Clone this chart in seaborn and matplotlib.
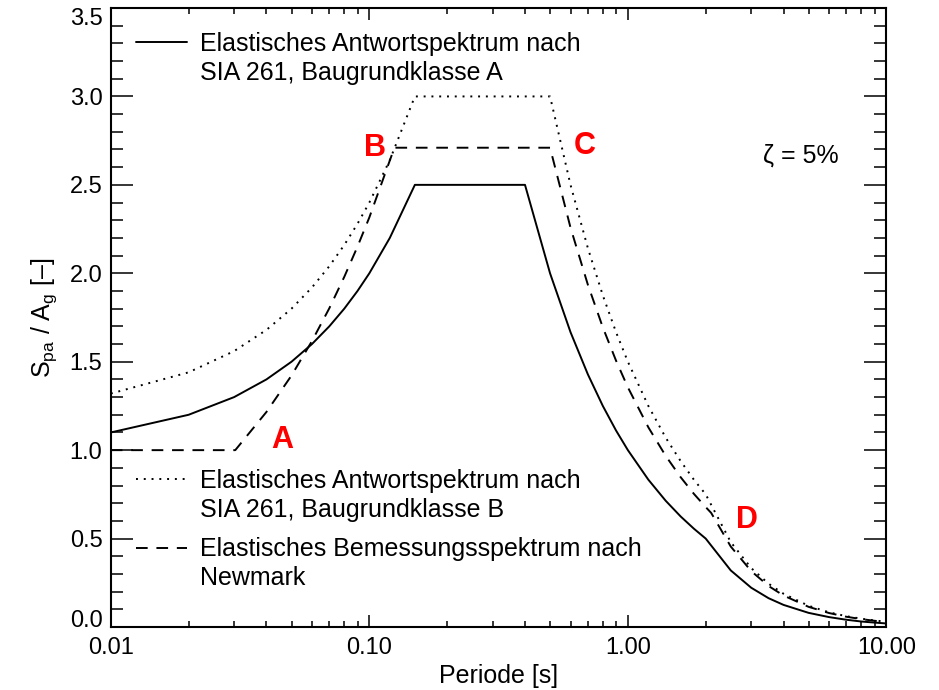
import matplotlib
matplotlib.use("Agg")
import matplotlib.pyplot as plt
import seaborn as sns
from matplotlib.lines import Line2D
from matplotlib.ticker import MultipleLocator, FixedLocator, FixedFormatter, LogLocator, NullFormatter

# Elastic response spectrum SIA 261, ground class A (S_pa / a_g)
periods_a = [0.01, 0.02, 0.03, 0.04, 0.05, 0.06, 0.07, 0.08, 0.09, 0.10, 0.12, 0.15,
             0.40, 0.50, 0.60, 0.70, 0.80, 0.90, 1.0, 1.2, 1.4, 1.6, 1.8, 2.0,
             2.5, 3.0, 3.5, 4.0, 5.0, 6.0, 7.0, 8.0, 9.0, 10.0]
sa_a = [1.10, 1.20, 1.30, 1.40, 1.50, 1.60, 1.70, 1.80, 1.90, 2.00, 2.20, 2.50,
        2.50, 2.00, 1.667, 1.429, 1.250, 1.111, 1.000, 0.833, 0.714, 0.625, 0.556, 0.500,
        0.320, 0.222, 0.163, 0.125, 0.080, 0.056, 0.041, 0.031, 0.025, 0.020]

# Elastic response spectrum SIA 261, ground class B
periods_b = [0.01, 0.02, 0.03, 0.04, 0.05, 0.06, 0.07, 0.08, 0.09, 0.10, 0.12, 0.15,
             0.50, 0.60, 0.70, 0.80, 0.90, 1.0, 1.2, 1.4, 1.6, 1.8, 2.0,
             2.5, 3.0, 3.5, 4.0, 5.0, 6.0, 7.0, 8.0, 9.0, 10.0]
sa_b = [1.32, 1.44, 1.56, 1.68, 1.80, 1.92, 2.04, 2.16, 2.28, 2.40, 2.64, 3.00,
        3.00, 2.500, 2.143, 1.875, 1.667, 1.500, 1.250, 1.071, 0.938, 0.833, 0.750,
        0.480, 0.333, 0.245, 0.188, 0.120, 0.083, 0.061, 0.047, 0.037, 0.030]

# Elastic design spectrum after Newmark (corners A, B, C, D)
periods_nm = [0.01, 0.0303, 0.04, 0.05, 0.06, 0.07, 0.08, 0.09, 0.10, 0.125,
              0.50, 0.60, 0.70, 0.80, 0.90, 1.0, 1.2, 1.4, 1.6, 1.8, 2.0, 2.1,
              2.5, 3.0, 3.5, 4.0, 5.0, 6.0, 7.0, 8.0, 9.0, 10.0]
sa_nm = [1.00, 1.00, 1.216, 1.422, 1.617, 1.802, 1.980, 2.151, 2.316, 2.71,
         2.71, 2.258, 1.936, 1.694, 1.506, 1.355, 1.129, 0.968, 0.847, 0.753, 0.678, 0.645,
         0.455, 0.316, 0.232, 0.178, 0.114, 0.079, 0.058, 0.0445, 0.0351, 0.0285]
corner_idx = [1, 9, 10, 21]
corner_names = ["A", "B", "C", "D"]

label_a = ["Elastisches Antwortspektrum nach", "SIA 261, Baugrundklasse A"]
label_b = ["Elastisches Antwortspektrum nach", "SIA 261, Baugrundklasse B"]
label_nm = ["Elastisches Bemessungsspektrum nach", "Newmark"]

x_ticks = [0.01, 0.1, 1.0, 10.0]
x_ticklabels = ["0.01", "0.10", "1.00", "10.00"]
y_ticks = [0.0, 0.5, 1.0, 1.5, 2.0, 2.5, 3.0, 3.5]
y_ticklabels = ["0.0", "0.5", "1.0", "1.5", "2.0", "2.5", "3.0", "3.5"]

sns.set_theme(style="ticks")
plt.rcParams["font.family"] = ["Liberation Sans", "DejaVu Sans"]
plt.rcParams["mathtext.fontset"] = "custom"
plt.rcParams["mathtext.rm"] = "Liberation Sans"
for key in ("text.color", "axes.labelcolor", "xtick.color", "ytick.color", "axes.edgecolor"):
    plt.rcParams[key] = "black"

fig = plt.figure(figsize=(9.39, 6.90), dpi=100)
ax = fig.add_axes([0.118, 0.0913, 0.826, 0.8971])

lw = 1.4
sns.lineplot(x=periods_a, y=sa_a, ax=ax, color="black", lw=lw,
             estimator=None, sort=False)
sns.lineplot(x=periods_b, y=sa_b, ax=ax, color="black", lw=lw,
             linestyle=(0, (1, 3)), estimator=None, sort=False)
sns.lineplot(x=periods_nm, y=sa_nm, ax=ax, color="black", lw=lw,
             linestyle=(0, (6, 4.5)), estimator=None, sort=False)
line_a, line_b, line_nm = ax.get_lines()[:3]

ax.set_xscale("log")
ax.set_xlim(0.01, 10.0)
ax.set_ylim(0.0, 3.5)

ax.xaxis.set_major_locator(FixedLocator(x_ticks))
ax.xaxis.set_major_formatter(FixedFormatter(x_ticklabels))
ax.xaxis.set_minor_locator(LogLocator(base=10, subs=range(2, 10)))
ax.xaxis.set_minor_formatter(NullFormatter())
ax.yaxis.set_major_locator(FixedLocator(y_ticks))
ax.yaxis.set_major_formatter(FixedFormatter(y_ticklabels))
ax.yaxis.set_minor_locator(MultipleLocator(0.1))

ax.tick_params(axis="both", which="both", direction="in", top=True, right=True,
               colors="black", width=1.1, labelsize=17)
ax.tick_params(axis="x", which="major", length=8.6, pad=7)
ax.tick_params(axis="x", which="minor", length=4.3)
ax.tick_params(axis="y", which="major", length=16, pad=6)
ax.tick_params(axis="y", which="minor", length=8.6)
for sp in ax.spines.values():
    sp.set_visible(True)
    sp.set_linewidth(1.5)
    sp.set_color("black")

ax.set_xlabel("Periode [s]", fontsize=18, labelpad=4)
ax.set_ylabel(r"S$_\mathregular{pa}$ / A$_\mathregular{g}$ [–]", fontsize=18, labelpad=8)

# keep the end labels of the y axis inside the frame
fig.canvas.draw()
ymajor = ax.yaxis.get_major_ticks()
ymajor[0].label1.set_verticalalignment("baseline")
ymajor[-1].label1.set_verticalalignment("top")

# Corner letters of the Newmark spectrum
offsets = [(34, 7), (-14, 0), (25, 1.5), (26, -5)]
for name, i, off in zip(corner_names, corner_idx, offsets):
    ax.annotate(name, xy=(periods_nm[i], sa_nm[i]), xytext=off,
                textcoords="offset points", ha="center", va="center",
                color="#ff0000", fontsize=22, fontweight="bold")

ax.text(0.938, 0.762, "ζ = 5%", transform=ax.transAxes, ha="right",
        va="center", fontsize=18)

blank = Line2D([], [], color="none")
leg_kw = dict(frameon=False, fontsize=18, handlelength=2.04, handletextpad=0.52,
              borderpad=0, borderaxespad=0, labelspacing=0.2, loc="upper left")
leg1 = ax.legend([line_a, blank], label_a, bbox_to_anchor=(0.0323, 0.962), **leg_kw)
ax.add_artist(leg1)
leg2 = ax.legend([line_b, blank], label_b, bbox_to_anchor=(0.0323, 0.256), **leg_kw)
ax.add_artist(leg2)
ax.legend([line_nm, blank], label_nm, bbox_to_anchor=(0.0323, 0.1446), **leg_kw)

fig.savefig("out.png", dpi=100)
